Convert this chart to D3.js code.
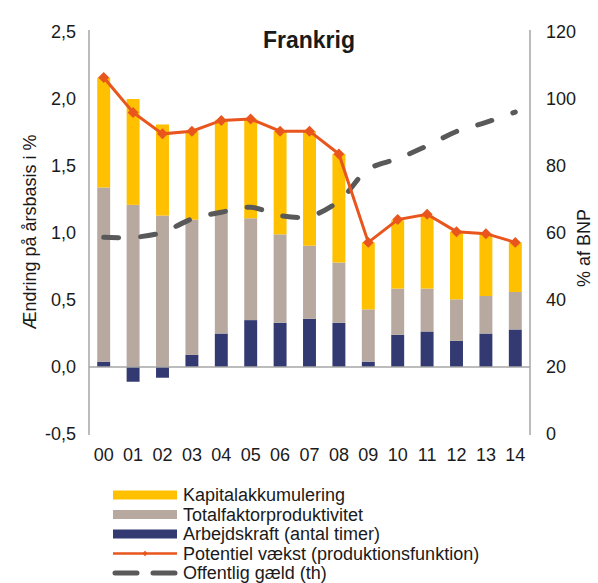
<!DOCTYPE html>
<html>
<head>
<meta charset="utf-8">
<script src="https://cdn.jsdelivr.net/npm/d3@7"></script>
<style>
  body { margin: 0; background: #fff; }
  svg { display: block; font-family: Arial, "Liberation Sans", sans-serif; }
</style>
</head>
<body>
<svg id="chart" width="598" height="583"></svg>
<script>
// ----------------------------------------------------
// data
// ----------------------------------------------------
const years = ["00", "01", "02", "03", "04", "05", "06", "07", "08", "09", "10", "11", "12", "13", "14"];
const labour = [0.04, -0.11, -0.08, 0.09, 0.25, 0.35, 0.33, 0.36, 0.33, 0.04, 0.24, 0.265, 0.195, 0.25, 0.28];
const tfp = [1.30, 1.21, 1.13, 1.01, 0.90, 0.76, 0.66, 0.545, 0.45, 0.39, 0.345, 0.32, 0.31, 0.28, 0.28];
const capital = [0.82, 0.79, 0.68, 0.66, 0.695, 0.74, 0.77, 0.855, 0.81, 0.50, 0.51, 0.545, 0.505, 0.465, 0.37];
const potential = [2.16, 1.90, 1.74, 1.76, 1.84, 1.85, 1.76, 1.76, 1.59, 0.93, 1.10, 1.14, 1.01, 0.995, 0.93];
const debt = [58.7, 58.7, 60.2, 64.2, 66.2, 67.7, 65.2, 65.0, 69.5, 79.0, 82.2, 86.0, 90.3, 93.0, 96.1];

const leftTicks = [-0.5, 0, 0.5, 1.0, 1.5, 2.0, 2.5];
const rightTicks = [0, 20, 40, 60, 80, 100, 120];

const legendNames = [
  "Kapitalakkumulering",
  "Totalfaktorproduktivitet",
  "Arbejdskraft (antal timer)",
  "Potentiel vækst (produktionsfunktion)",
  "Offentlig gæld (th)"
];

const colors = {
  capital: "#FFC000",
  tfp: "#B7A99F",
  labour: "#333A72",
  potential: "#E8561E",
  debt: "#595959",
  axis: "#A6A6A6"
};

const svg = d3.select("#chart");

// scales
const x = d3.scaleBand().domain(years).range([89, 530]).paddingInner(0.56).paddingOuter(0.28);
const y = d3.scaleLinear().domain([-0.5, 2.5]).range([434, 32]);
const y2 = d3.scaleLinear().domain([0, 120]).range([434, 32]);
// danish decimal comma, plain hyphen for minus
const fmt = d => d.toFixed(1).replace(".", ",");

// ----------------------------------------------------
// stacked bars
// ----------------------------------------------------
const rows = years.map((yr, i) => ({ year: yr, labour: labour[i], tfp: tfp[i], capital: capital[i] }));
const stack = d3.stack()
  .keys(["labour", "tfp", "capital"])
  .offset(d3.stackOffsetDiverging);

svg.append("g")
  .selectAll("g")
  .data(stack(rows))
  .enter()
  .append("g")
  .attr("fill", d => colors[d.key])
  .selectAll("rect")
  .data(d => d)
  .enter()
  .append("rect")
  .attr("x", d => x(d.data.year))
  .attr("width", x.bandwidth())
  .attr("y", d => y(Math.max(d[0], d[1])))
  .attr("height", d => Math.abs(y(d[0]) - y(d[1])));

// ----------------------------------------------------
// axes (plain lines, no ticks)
// ----------------------------------------------------
const axisG = svg.append("g").attr("stroke", colors.axis).attr("stroke-width", 1.5);
axisG.append("line").attr("x1", 89).attr("x2", 89).attr("y1", y(2.5) - 2).attr("y2", y(-0.5) + 1);
axisG.append("line").attr("x1", 530).attr("x2", 530).attr("y1", y(2.5) - 2).attr("y2", y(-0.5) + 1);
axisG.append("line").attr("x1", 89).attr("x2", 530).attr("y1", y(0)).attr("y2", y(0));

const leftAxis = svg.append("g")
  .attr("transform", "translate(76,0)")
  .call(d3.axisLeft(y).tickValues(leftTicks).tickSize(0).tickPadding(0).tickFormat(fmt));

const rightAxis = svg.append("g")
  .attr("transform", "translate(546,0)")
  .call(d3.axisRight(y2).tickValues(rightTicks).tickSize(0).tickPadding(0));

const bottomAxis = svg.append("g")
  .attr("transform", "translate(0,448)")
  .call(d3.axisBottom(x).tickSize(0).tickPadding(0));

[leftAxis, rightAxis, bottomAxis].forEach(g => {
  g.select(".domain").remove();
  g.selectAll("text")
    .attr("font-size", 18)
    .attr("font-family", "Arial, 'Liberation Sans', sans-serif")
    .attr("fill", "#1a1a1a");
});

// ----------------------------------------------------
// lines
// ----------------------------------------------------
const xc = d => x(d) + x.bandwidth() / 2;

svg.append("path")
  .datum(debt)
  .attr("fill", "none")
  .attr("stroke", colors.debt)
  .attr("stroke-width", 5)
  .attr("stroke-linecap", "round")
  .attr("stroke-dasharray", "15,22")
  .attr("d", d3.line().x((d, i) => xc(years[i])).y(d => y2(d)).curve(d3.curveCatmullRom));

svg.append("path")
  .datum(potential)
  .attr("fill", "none")
  .attr("stroke", colors.potential)
  .attr("stroke-width", 3)
  .attr("d", d3.line().x((d, i) => xc(years[i])).y(d => y(d)));

const diamond = d3.symbol().type(d3.symbolSquare).size(60);
svg.append("g")
  .selectAll("path")
  .data(potential)
  .enter()
  .append("path")
  .attr("d", diamond)
  .attr("fill", colors.potential)
  .attr("transform", (d, i) => "translate(" + xc(years[i]) + "," + y(d) + ") rotate(45)");

// ----------------------------------------------------
// titles
// ----------------------------------------------------
svg.append("text")
  .attr("x", 309).attr("y", 48)
  .attr("text-anchor", "middle")
  .attr("font-size", 23).attr("font-weight", "bold")
  .attr("fill", "#1a1a1a")
  .text("Frankrig");

svg.append("text")
  .attr("transform", "translate(36,232) rotate(-90)")
  .attr("text-anchor", "middle")
  .attr("font-size", 18)
  .attr("fill", "#1a1a1a")
  .text("Ændring på årsbasis i %");

svg.append("text")
  .attr("transform", "translate(590,248) rotate(-90)")
  .attr("text-anchor", "middle")
  .attr("font-size", 18)
  .attr("fill", "#1a1a1a")
  .text("% af BNP");

// ----------------------------------------------------
// legend
// ----------------------------------------------------
const legendY = d3.scalePoint().domain(legendNames).range([495, 573]);
const legend = svg.append("g");

legend.selectAll("rect")
  .data(legendNames.slice(0, 3))
  .enter()
  .append("rect")
  .attr("x", 113).attr("width", 64)
  .attr("y", d => legendY(d) - 4.5).attr("height", 9)
  .attr("fill", (d, i) => [colors.capital, colors.tfp, colors.labour][i]);

legend.append("line")
  .attr("x1", 113).attr("x2", 177)
  .attr("y1", legendY(legendNames[3])).attr("y2", legendY(legendNames[3]))
  .attr("stroke", colors.potential).attr("stroke-width", 2.5);
legend.append("path")
  .attr("d", d3.symbol().type(d3.symbolSquare).size(14))
  .attr("fill", colors.potential)
  .attr("transform", "translate(145," + legendY(legendNames[3]) + ") rotate(45)");

legend.append("line")
  .attr("x1", 115).attr("x2", 175)
  .attr("y1", legendY(legendNames[4])).attr("y2", legendY(legendNames[4]))
  .attr("stroke", colors.debt).attr("stroke-width", 5)
  .attr("stroke-linecap", "round").attr("stroke-dasharray", "22,16");

legend.selectAll("text")
  .data(legendNames)
  .enter()
  .append("text")
  .attr("x", 183)
  .attr("y", d => legendY(d))
  .attr("dy", "0.35em")
  .attr("font-size", 18)
  .attr("fill", "#1a1a1a")
  .text(d => d);
</script>
</body>
</html>
